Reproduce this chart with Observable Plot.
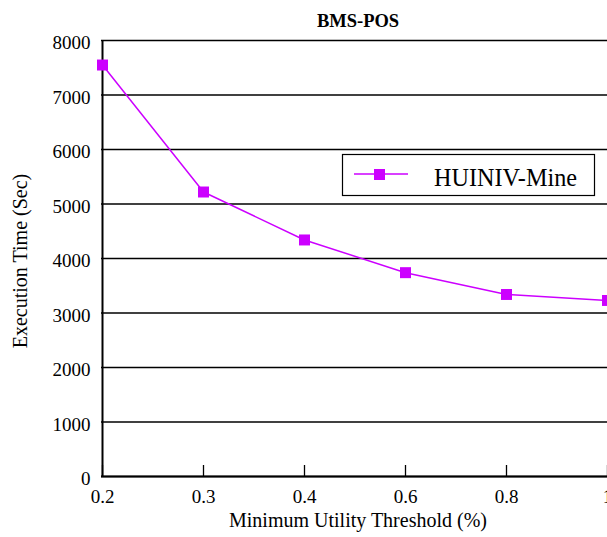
<!DOCTYPE html>
<html><head><meta charset="utf-8">
<script src="https://cdn.jsdelivr.net/npm/d3@7"></script>
<script src="https://cdn.jsdelivr.net/npm/@observablehq/plot@0.6"></script>
<style>body{margin:0;background:#fff} svg{display:block}</style>
</head><body><div id="chart"></div>
<script>
const thresholds = ["0.2", "0.3", "0.4", "0.6", "0.8", "1"];
const execTime = [7550, 5220, 4340, 3740, 3340, 3230];
const yTicks = [0, 1000, 2000, 3000, 4000, 5000, 6000, 7000, 8000];
const seriesName = "HUINIV-Mine";
const chartTitle = "BMS-POS";
const xLabel = "Minimum Utility Threshold (%)";
const yLabel = "Execution Time (Sec)";
const color = "#cc00ff";
const fontFamily = "'Liberation Serif', 'DejaVu Serif', serif";

const data = thresholds.map((t, i) => ({t, v: execTime[i]}));

const W = 607, H = 537, mL = 101, mR = 0, mT = 40, mB = 61;

const plot = Plot.plot({
  width: W, height: H,
  marginLeft: mL, marginRight: mR, marginTop: mT, marginBottom: mB,
  style: {fontFamily, fontSize: "19px", background: "#fff", color: "#000", overflow: "hidden"},
  x: {type: "point", domain: thresholds, padding: 0},
  y: {domain: [0, 8000]},
  marks: [
    Plot.ruleY(yTicks, {stroke: "#000", strokeWidth: 1.5}),
    Plot.ruleY([0], {stroke: "#000", strokeWidth: 2.2}),
    Plot.ruleX([thresholds[0]], {stroke: "#000", strokeWidth: 2}),
    Plot.axisY({ticks: yTicks, tickSize: 0, tickPadding: 11, tickFormat: "d", label: null, dy: 2.5}),
    Plot.axisX({tickSize: -11, tickFormat: () => "", label: null, strokeWidth: 1.3}),
    Plot.axisX({tickSize: 0, tickPadding: 13, label: null}),
    Plot.line(data, {x: "t", y: "v", stroke: color, strokeWidth: 1.5}),
    Plot.dot(data, {x: "t", y: "v", symbol: "square", r: 6.2, fill: color, stroke: null})
  ]
});

const svg = d3.select(plot);
svg.append("text")
  .attr("x", 358).attr("y", 26.5)
  .attr("text-anchor", "middle")
  .attr("font-family", fontFamily).attr("font-weight", "bold").attr("font-size", 18.5)
  .text(chartTitle);
svg.append("text")
  .attr("transform", "translate(27,261) rotate(-90)")
  .attr("text-anchor", "middle")
  .attr("font-family", fontFamily).attr("font-size", 20)
  .text(yLabel);
svg.append("text")
  .attr("x", 358).attr("y", 527)
  .attr("text-anchor", "middle")
  .attr("font-family", fontFamily).attr("font-size", 20)
  .text(xLabel);

// legend
const lg = svg.append("g");
lg.append("rect").attr("x", 342.5).attr("y", 154.5).attr("width", 252).attr("height", 41)
  .attr("fill", "#fff").attr("stroke", "#000").attr("stroke-width", 1.2);
lg.append("line").attr("x1", 354).attr("x2", 408).attr("y1", 174).attr("y2", 174)
  .attr("stroke", color).attr("stroke-width", 1.5);
lg.append("rect").attr("x", 374).attr("y", 169).attr("width", 11).attr("height", 11).attr("fill", color);
lg.append("text").attr("x", 434).attr("y", 186)
  .attr("text-anchor", "start")
  .attr("font-family", fontFamily).attr("font-size", 26)
  .attr("textLength", 143).attr("lengthAdjust", "spacingAndGlyphs")
  .text(seriesName);

document.getElementById("chart").appendChild(plot);
</script>
</body></html>
